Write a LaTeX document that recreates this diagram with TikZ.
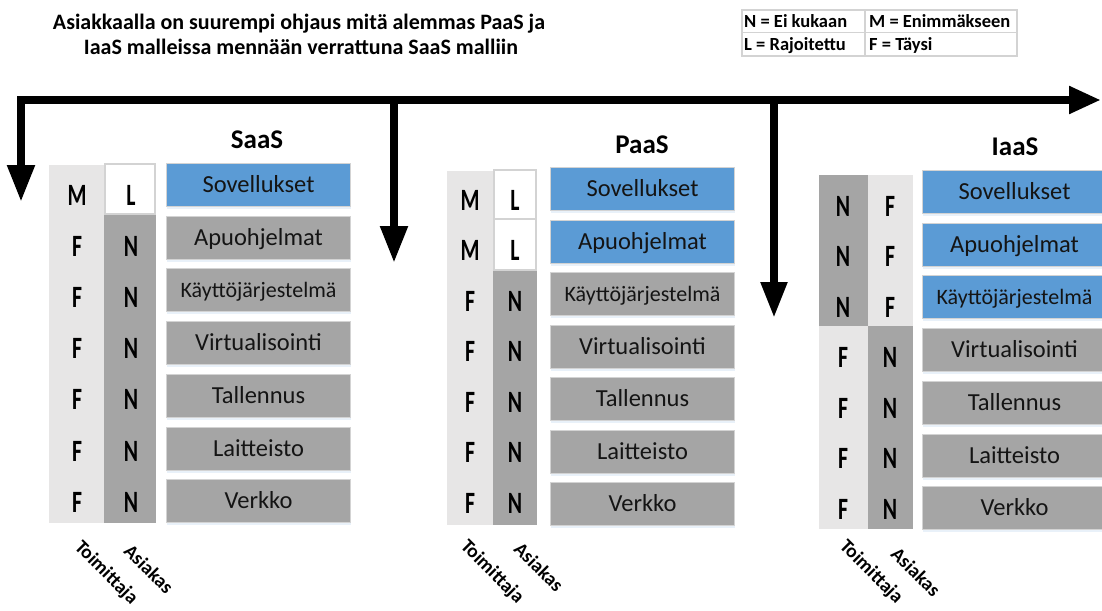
\documentclass[tikz,border=0pt]{standalone}
\usepackage{fontspec}
\setmainfont{Carlito}
\usetikzlibrary{arrows.meta,shadows}

\definecolor{tileblue}{HTML}{5B9BD5}
\definecolor{tilegray}{HTML}{A5A5A5}
\definecolor{paleband}{HTML}{E7E6E6}
\definecolor{rimgray}{HTML}{D3D3D3}
\definecolor{inkblack}{HTML}{141414}

% condensed letter used in the responsibility columns
\newcommand{\gradeletter}[1]{\scalebox{0.7}[1]{#1}}

\tikzset{
  bigline/.style={line width=8pt, draw=black, line join=miter},
  bighead/.style={-{Triangle[width=26pt,length=37pt]}},
  layer/.style={minimum width=184pt, minimum height=43pt, inner sep=0pt,
    draw=rimgray, line width=1pt, text=inkblack,
    font=\fontsize{24.5}{24.5}\selectfont, text height=15.5pt, text depth=0pt,
    drop shadow={shadow xshift=0pt, shadow yshift=-2.5pt, fill=tileblue!30, opacity=0.45}},
  apptile/.style={layer, fill=tileblue},
  infratile/.style={layer, fill=tilegray},
  osgray/.style={infratile, font=\fontsize{22}{22}\selectfont, text height=14pt},
  osblue/.style={apptile, font=\fontsize{22}{22}\selectfont, text height=14pt},
  grade/.style={font=\fontsize{31}{31}\selectfont\bfseries, inner sep=0pt, text=black},
  role/.style={font=\fontsize{19.5}{19.5}\selectfont\bfseries, rotate=-45, inner sep=0pt},
  modelhead/.style={font=\fontsize{27}{27}\selectfont\bfseries, inner sep=0pt},
  keytext/.style={font=\fontsize{18.5}{18.5}\selectfont\bfseries, anchor=west,
    inner sep=0pt, text height=12pt, text depth=0pt},
  headline/.style={font=\fontsize{22}{22}\selectfont\bfseries, inner sep=0pt,
    text height=14pt, text depth=0pt},
  keyrule/.style={draw=rimgray, line width=1.5pt},
}

\begin{document}
\begin{tikzpicture}[x=1pt, y=-1pt]
\useasboundingbox (0,0) rectangle (1102,610);

% ---------- heading ----------
\node[headline] (head1) at (299,22.5) {Asiakkaalla on suurempi ohjaus mitä alemmas PaaS ja};
\node[headline] (head2) at (301,47.5) {IaaS malleissa mennään verrattuna SaaS malliin};

% ---------- key ----------
\draw[keyrule] (742,10) rectangle (1017,56);
\draw[keyrule] (865,10) -- (865,56);
\draw[keyrule] (742,32.5) -- (1017,32.5);
\node[keytext] (keyN) at (744,21.5) {N = Ei kukaan};
\node[keytext] (keyM) at (869,21.5) {M = Enimmäkseen};
\node[keytext] (keyL) at (744,44.5) {L = Rajoitettu};
\node[keytext] (keyF) at (869,44.5) {F = Täysi};

% ---------- control arrows ----------
\coordinate (dropSaaS) at (21,202);
\coordinate (barEnd) at (1101,100);
\coordinate (forkPaaS) at (394,96);
\coordinate (dropPaaS) at (394,263);
\coordinate (forkIaaS) at (774,96);
\coordinate (dropIaaS) at (774,318);
\draw[bigline, {Triangle[width=26pt,length=37pt]}-{Triangle[width=26pt,length=32pt]}]
  (dropSaaS) |- (barEnd);
\draw[bigline, bighead] (forkPaaS) -- (dropPaaS);
\draw[bigline, -{Triangle[width=25pt,length=36pt]}] (forkIaaS) -- (dropIaaS);

% ---------- SaaS ----------
\node[modelhead] (saasHead) at (257,140) {SaaS};
\fill[paleband] (49,165) rectangle (104,523);
\fill[tilegray] (104,214) rectangle (156,523);
\draw[rimgray, line width=1.5pt, fill=white] (105,164) rectangle (155,214);
\foreach \n/\t/\s [count=\i from 0] in
  {app/Sovellukset/apptile, mid/Apuohjelmat/infratile, os/Käyttöjärjestelmä/osgray,
   virt/Virtualisointi/infratile, store/Tallennus/infratile, hw/Laitteisto/infratile,
   net/Verkko/infratile}
  \node[\s, anchor=north west] (saas-\n) at (166,{163+52.7*\i}) {\t};
\foreach \a/\b [count=\i from 0] in {M/L,F/N,F/N,F/N,F/N,F/N,F/N} {
  \node[grade] (saas-prov\i) at (77,{195+51.2*\i}) {\gradeletter{\a}};
  \node[grade] (saas-cust\i) at (131,{195+51.2*\i}) {\gradeletter{\b}};
}
\node[role] (saasProv) at (106,573) {Toimittaja};
\node[role] (saasCust) at (149,569) {Asiakas};

% ---------- PaaS ----------
\node[modelhead] (paasHead) at (642,145) {PaaS};
\fill[paleband] (447,171) rectangle (493,525);
\fill[tilegray] (493,270) rectangle (537,525);
\draw[rimgray, line width=1.5pt, fill=white] (494,170) rectangle (536,219);
\draw[rimgray, line width=1.5pt, fill=white] (494,219) rectangle (536,270);
\foreach \n/\t/\s [count=\i from 0] in
  {app/Sovellukset/apptile, mid/Apuohjelmat/apptile, os/Käyttöjärjestelmä/osgray,
   virt/Virtualisointi/infratile, store/Tallennus/infratile, hw/Laitteisto/infratile,
   net/Verkko/infratile}
  \node[\s, anchor=north west] (paas-\n) at (550,{167+52.5*\i}) {\t};
\foreach \a/\b [count=\i from 0] in {M/L,M/L,F/N,F/N,F/N,F/N,F/N} {
  \node[grade] (paas-prov\i) at (470,{200+50.5*\i}) {\gradeletter{\a}};
  \node[grade] (paas-cust\i) at (515,{200+50.5*\i}) {\gradeletter{\b}};
}
\node[role] (paasProv) at (492,572) {Toimittaja};
\node[role] (paasCust) at (539,567) {Asiakas};

% ---------- IaaS ----------
\node[modelhead] (iaasHead) at (1015,147) {IaaS};
\fill[tilegray] (819,175) rectangle (868,326);
\fill[paleband] (819,326) rectangle (868,529);
\fill[paleband] (868,175) rectangle (913,326);
\fill[tilegray] (868,326) rectangle (913,529);
\foreach \n/\t/\s [count=\i from 0] in
  {app/Sovellukset/apptile, mid/Apuohjelmat/apptile, os/Käyttöjärjestelmä/osblue,
   virt/Virtualisointi/infratile, store/Tallennus/infratile, hw/Laitteisto/infratile,
   net/Verkko/infratile}
  \node[\s, anchor=north west] (iaas-\n) at (922,{170+52.7*\i}) {\t};
\foreach \a/\b [count=\i from 0] in {N/F,N/F,N/F,F/N,F/N,F/N,F/N} {
  \node[grade] (iaas-prov\i) at (843,{206+50.5*\i}) {\gradeletter{\a}};
  \node[grade] (iaas-cust\i) at (890,{206+50.5*\i}) {\gradeletter{\b}};
}
\node[role] (iaasProv) at (871,572) {Toimittaja};
\node[role] (iaasCust) at (916,572) {Asiakas};
\end{tikzpicture}
\end{document}
